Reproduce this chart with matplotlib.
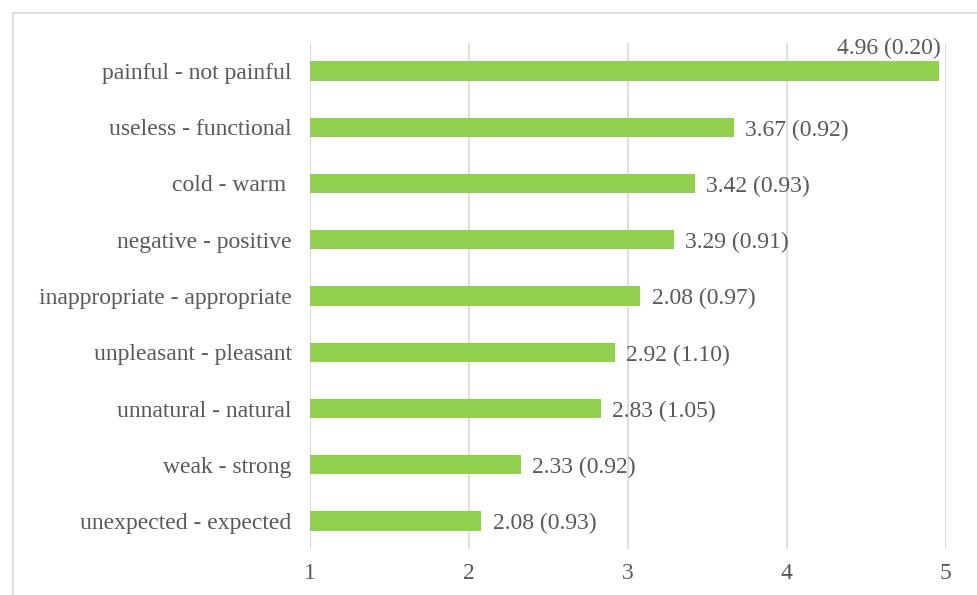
import matplotlib.pyplot as plt
import matplotlib.patches as patches

labels = ["painful - not painful", "useless - functional", "cold - warm ",
          "negative - positive", "inappropriate - appropriate",
          "unpleasant - pleasant", "unnatural - natural", "weak - strong",
          "unexpected - expected"]
means = [4.96, 3.67, 3.42, 3.29, 3.08, 2.92, 2.83, 2.33, 2.08]
value_text = ["4.96 (0.20)", "3.67 (0.92)", "3.42 (0.93)", "3.29 (0.91)",
              "2.08 (0.97)", "2.92 (1.10)", "2.83 (1.05)", "2.33 (0.92)",
              "2.08 (0.93)"]

plt.rcParams['font.family'] = ['Liberation Serif', 'DejaVu Serif']
txt = '#595959'
grid = '#D9D9D9'
fs = 17

fig = plt.figure(figsize=(9.77, 5.95), dpi=100)
ax = fig.add_axes([0.317, 0.077, 0.651, 0.851])

n = len(labels)
pos = list(range(n - 1, -1, -1))
ax.barh(pos, [m - 1 for m in means], left=1, height=0.34, color='#92D050', zorder=3)

for p, m, t in zip(pos, means, value_text):
    if m > 4.5:
        ax.text(m + 0.01, p + 0.22, t, ha='right', va='bottom', fontsize=fs, color=txt)
    else:
        ax.text(m + 0.07, p - 0.05, t, ha='left', va='center', fontsize=fs, color=txt)

ax.set_xlim(1, 5)
ax.set_ylim(-0.5, n - 0.5)
ax.set_xticks([1, 2, 3, 4, 5])
ax.set_yticks(pos)
ax.set_yticklabels(labels)
ax.xaxis.grid(True, color=grid, lw=1.2, zorder=0)
ax.tick_params(axis='y', length=0, pad=13, labelsize=fs, labelcolor=txt)
ax.tick_params(axis='x', length=0, pad=10, labelsize=fs, labelcolor=txt)
for s in ax.spines.values():
    s.set_visible(False)
ax.axvline(1, color=grid, lw=1.2, zorder=1)

# outer chart frame
frame = patches.Rectangle((13 / 977, -0.1), 1.2, 1.1 - 13 / 595, transform=fig.transFigure,
                          fill=False, edgecolor=grid, lw=1.2, clip_on=False)
fig.patches.append(frame)

fig.savefig('out.png', dpi=100)
